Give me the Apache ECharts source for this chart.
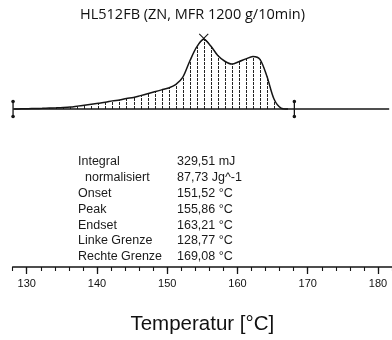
<!DOCTYPE html>
<html>
<head>
<meta charset="utf-8">
<script src="https://cdn.jsdelivr.net/npm/echarts@6/dist/echarts.min.js"></script>
<style>html,body{margin:0;padding:0;background:#fff}#c{width:392px;height:340px}</style>
</head>
<body>
<div id="c"></div>
<script>
// ---- data ----
const chartTitle = 'HL512FB (ZN, MFR 1200 g/10min)';
const axisName = 'Temperatur [°C]';
const tempC = [128.2,129.2,130.2,131.2,132.2,133.2,134.2,135.2,136.2,137.2,138.2,139.2,140.2,141.2,142.2,143.2,144.2,145.2,146.2,147.2,148.2,149.2,150.2,151.2,152.2,153.2,154.2,155.2,156.2,157.2,158.2,159.2,160.2,161.2,162.2,163.2,164.2,165.2,166.2,167.2];
const heatFlow = [0,0.2,0.3,0.5,0.7,1,1.2,1.5,2,3,4,5,6,7,8.5,9.5,11,12,14,16,18,20,22,25.5,33,50,65,73,66,56,50,47,49.5,52.5,55,52,34,10.5,1,0];
const majorTicks = [130,140,150,160,170,180];
const minorTicks = [128,130,132,134,136,138,140,142,144,146,148,150,152,154,156,158,160,162,164,166,168,170,172,174,176,178,180,182];
const limitMarks = [128.05, 168.1];
const baselineSpan = [128.05, 181.6];
const peakMark = [155.2, 73];
const resultLabels = ['Integral', '  normalisiert', 'Onset', 'Peak', 'Endset', 'Linke Grenze', 'Rechte Grenze'];
const resultValues = ['329,51 mJ', '87,73 Jg^-1', '151,52 °C', '155,86 °C', '163,21 °C', '128,77 °C', '169,08 °C'];

const curve = tempC.map((t, i) => [t, heatFlow[i]]);
const INK = '#151515';

const graphics = [{
  type: 'text', x: 192.5, y: 15,
  style: { text: chartTitle, x: 0, y: 0, align: 'center', verticalAlign: 'middle', fill: '#111', font: '14.5px "Open Sans"' }
}];
resultLabels.forEach((lab, i) => {
  const y = 161.7 + i * 15.85;
  graphics.push({ type: 'text', x: 78, y: y, style: { text: lab.trim(), x: lab.startsWith(' ') ? 7 : 0, y: 0, verticalAlign: 'middle', fill: '#1a1a1a', font: '12.5px "Liberation Sans"' } });
  graphics.push({ type: 'text', x: 177, y: y, style: { text: resultValues[i], x: 0, y: 0, verticalAlign: 'middle', fill: '#1a1a1a', font: '12.5px "Liberation Sans"' } });
});

const chart = echarts.init(document.getElementById('c'), null, { renderer: 'canvas' });
chart.setOption({
  animation: false,
  backgroundColor: '#fff',
  grid: { left: 12.7, width: 380, top: 14, height: 265, containLabel: false },
  xAxis: [{
    type: 'value', min: 128, max: 182, position: 'bottom',
    name: axisName, nameLocation: 'middle', nameGap: 47,
    nameTextStyle: { fontFamily: 'Liberation Sans', fontSize: 20.5, color: '#111' },
    axisLine: { show: true, onZero: false, lineStyle: { color: INK, width: 1.5 } },
    axisTick: { show: true, customValues: majorTicks, length: 7, lineStyle: { color: INK, width: 1.3 } },
    axisLabel: { show: true, customValues: majorTicks, margin: 11, fontFamily: 'Liberation Sans', fontSize: 11, color: '#111' },
    splitLine: { show: false }
  }, {
    type: 'value', min: 128, max: 182, position: 'bottom',
    axisLine: { show: false, onZero: false },
    axisTick: { show: true, customValues: minorTicks, length: 4, lineStyle: { color: INK, width: 1.1 } },
    axisLabel: { show: false },
    splitLine: { show: false }
  }],
  yAxis: { type: 'value', min: -165.5, max: 99.5, show: false, splitLine: { show: false } },
  graphic: graphics,
  series: [
    {
      type: 'custom', xAxisIndex: 0, data: curve, silent: true, z: 2,
      renderItem: function (params, api) {
        const p0 = api.coord([api.value(0), 0]);
        const p1 = api.coord([api.value(0), api.value(1)]);
        const x = Math.round(p0[0]) + 0.5;
        return { type: 'line', shape: { x1: x, y1: p0[1], x2: x, y2: p1[1] }, style: { stroke: '#222', lineWidth: 1, lineDash: [3, 1] } };
      }
    },
    {
      type: 'line', xAxisIndex: 0, data: [[baselineSpan[0], 0], [baselineSpan[1], 0]],
      symbol: 'none', lineStyle: { color: INK, width: 1.3 }, z: 3, silent: true
    },
    {
      type: 'line', xAxisIndex: 0, data: curve, smooth: 0.3, symbol: 'none',
      lineStyle: { color: INK, width: 1.5 }, z: 4, silent: true
    },
    {
      type: 'custom', xAxisIndex: 0, data: limitMarks.map(t => [t, 0]), silent: true, z: 5,
      renderItem: function (params, api) {
        const p = api.coord([api.value(0), api.value(1)]);
        return { type: 'group', children: [
          { type: 'line', shape: { x1: p[0], y1: p[1] - 9, x2: p[0], y2: p[1] + 9 }, style: { stroke: INK, lineWidth: 1.3 } },
          { type: 'circle', shape: { cx: p[0], cy: p[1] - 7.5, r: 1.8 }, style: { fill: INK } },
          { type: 'circle', shape: { cx: p[0], cy: p[1] + 7.5, r: 1.8 }, style: { fill: INK } }
        ] };
      }
    },
    {
      type: 'custom', xAxisIndex: 0, data: [peakMark], silent: true, z: 6,
      renderItem: function (params, api) {
        const p = api.coord([api.value(0), api.value(1)]);
        const s = 4.5;
        return { type: 'group', children: [
          { type: 'line', shape: { x1: p[0] - s, y1: p[1] - s - 1, x2: p[0] + s, y2: p[1] + s - 1 }, style: { stroke: INK, lineWidth: 1.1 } },
          { type: 'line', shape: { x1: p[0] + s, y1: p[1] - s - 1, x2: p[0] - s, y2: p[1] + s - 1 }, style: { stroke: INK, lineWidth: 1.1 } }
        ] };
      }
    }
  ]
});
</script>
</body>
</html>
